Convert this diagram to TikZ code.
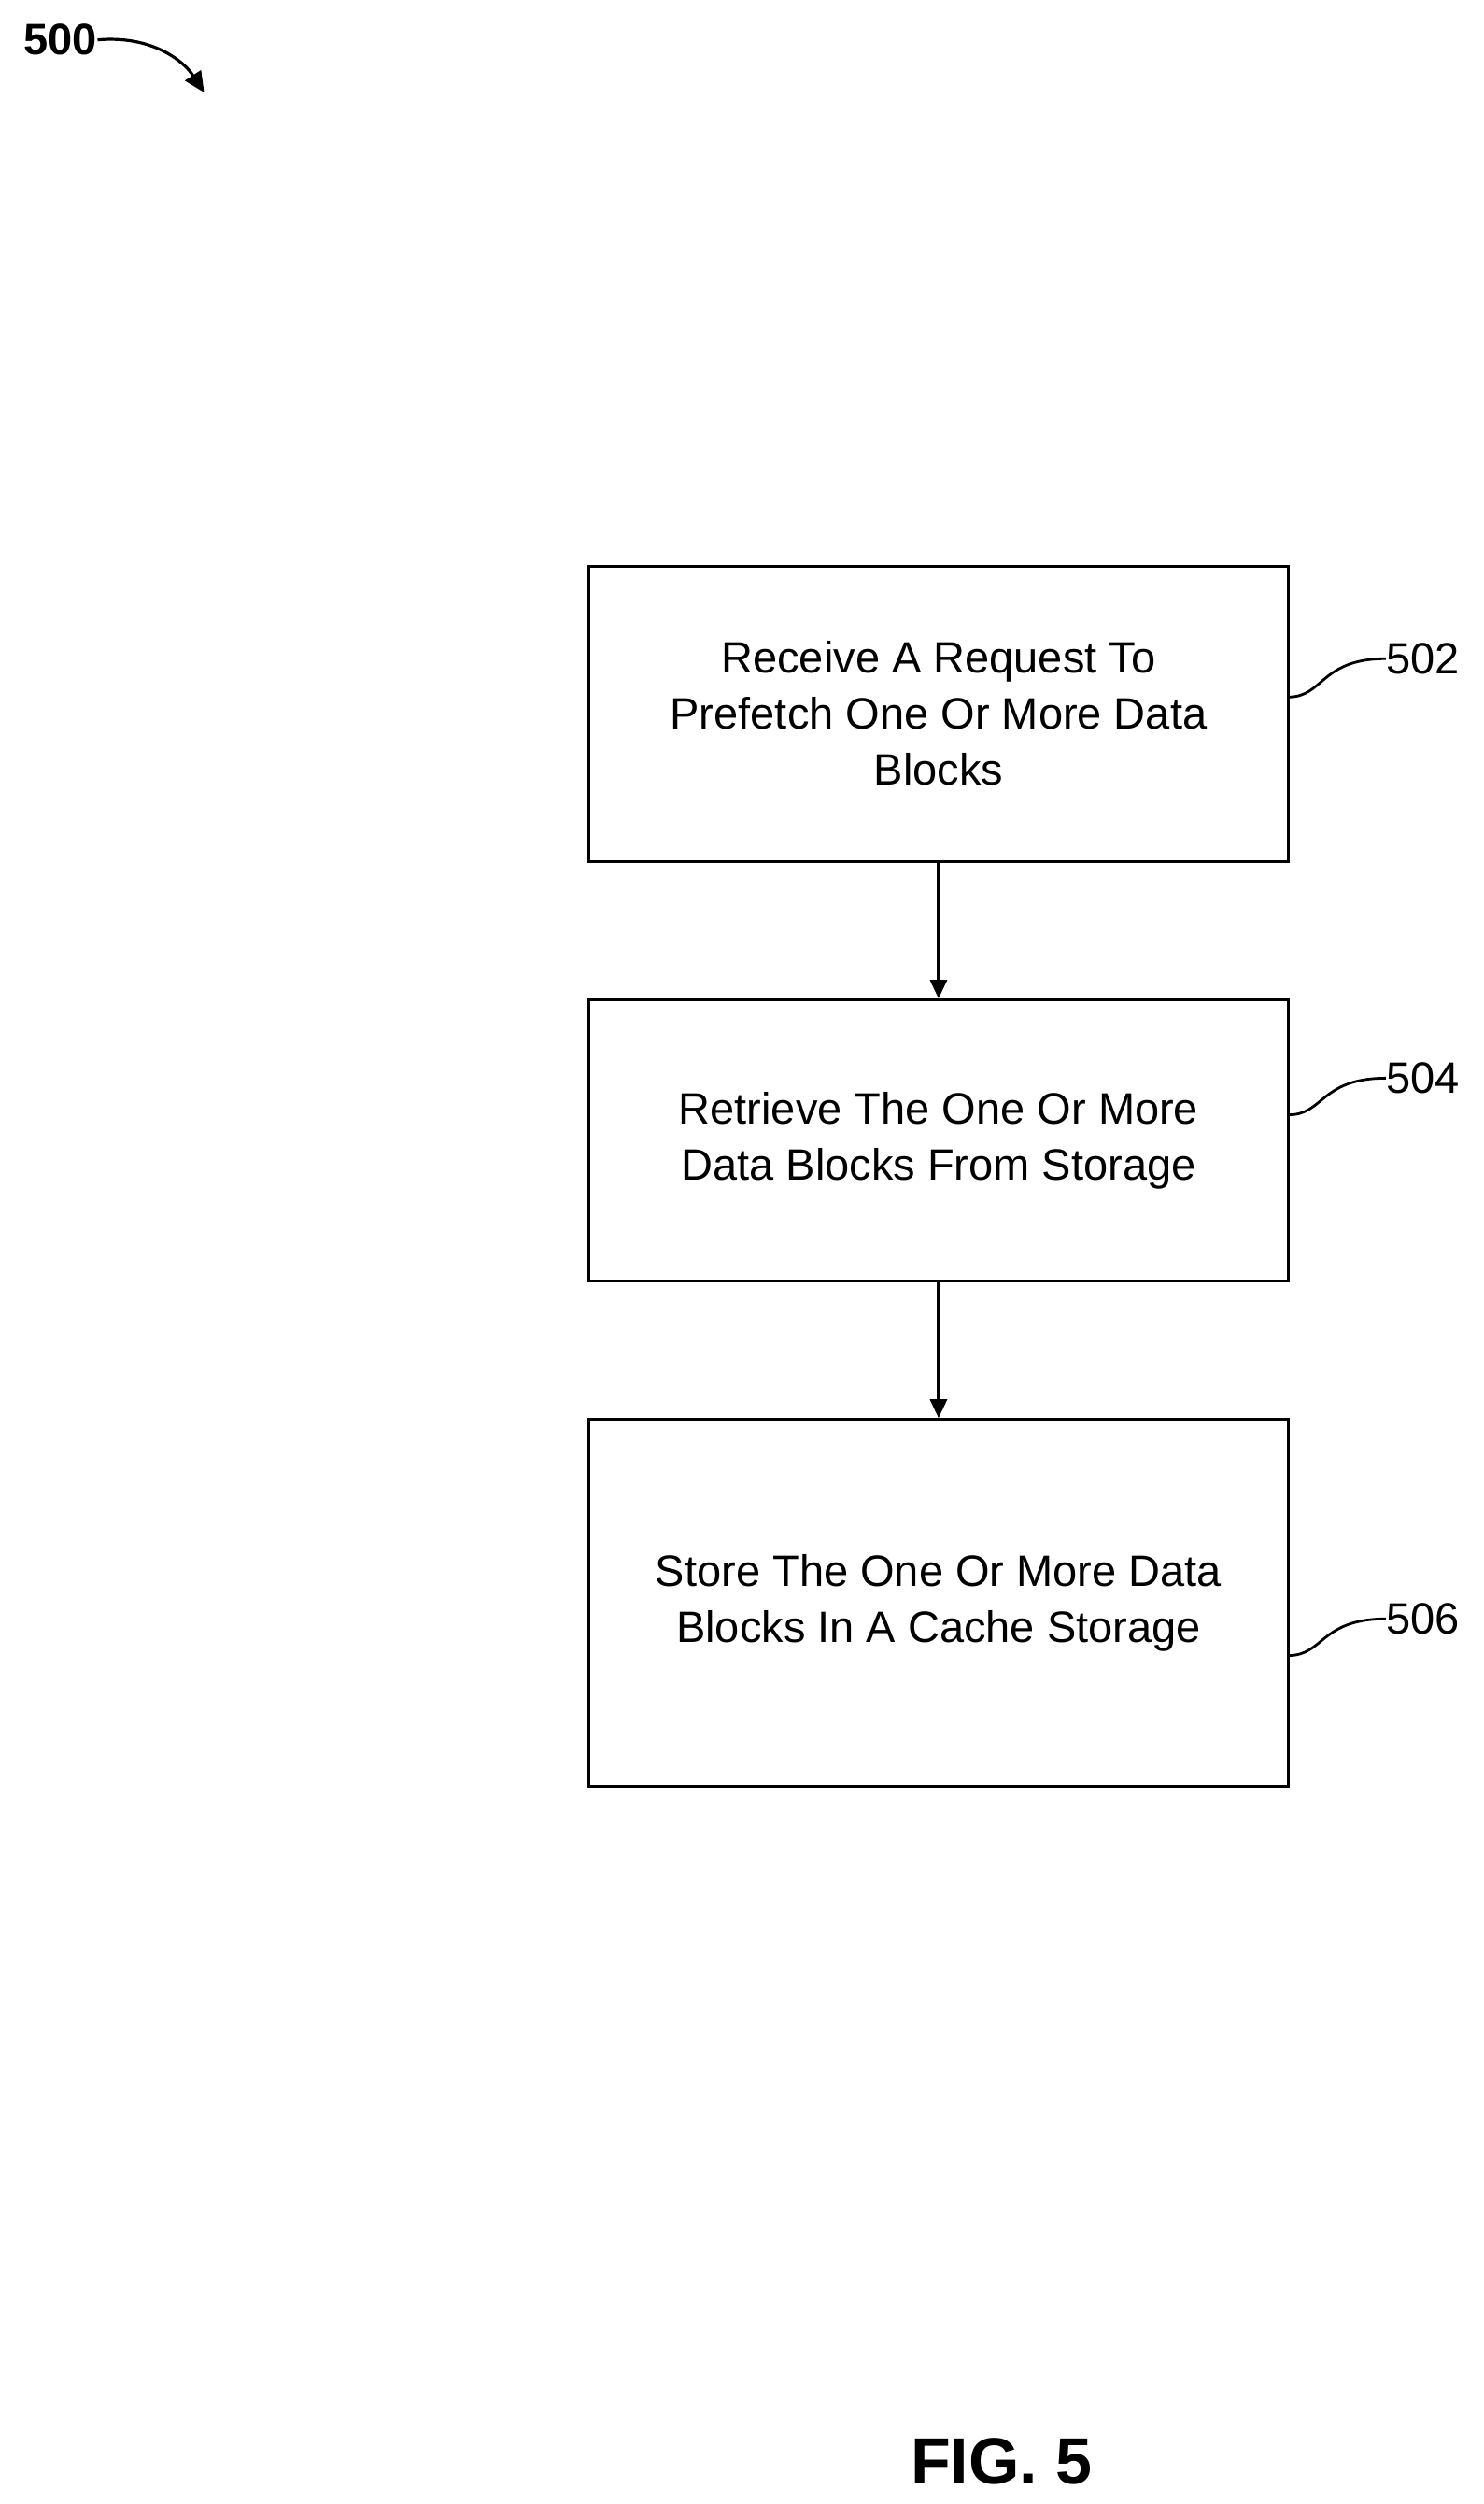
\documentclass[tikz,border=0pt]{standalone}
\usepackage{fontspec}
\setmainfont{Liberation Sans}
\usetikzlibrary{arrows.meta}
\begin{document}
\begin{tikzpicture}[x=0.85375pt,y=-0.85375pt,
  box/.style={draw,line width=1.6pt,align=center,font=\fontsize{23.5}{30}\selectfont,inner sep=0pt},
  lbl/.style={font=\fontsize{23.5}{28}\selectfont,anchor=west,inner sep=0pt},
  arr/.style={line width=1.6pt,-{Triangle[length=10pt,width=9pt]}},
  lead/.style={line width=1.4pt}]
\useasboundingbox (0,0) rectangle (930,1570);
\node[box,minimum width=439*0.85375pt,minimum height=185*0.85375pt] (b1) at (588.5,447.5) {Receive A Request To\\Prefetch One Or More Data\\Blocks};
\node[box,minimum width=439*0.85375pt,minimum height=176*0.85375pt] (b2) at (588.5,715) {Retrieve The One Or More\\Data Blocks From Storage};
\node[box,minimum width=439*0.85375pt,minimum height=230*0.85375pt] (b3) at (588.5,1005) {Store The One Or More Data\\Blocks In A Cache Storage};
\draw[arr] (b1.south) -- (b2.north);
\draw[arr] (b2.south) -- (b3.north);
\node[lbl] (l1) at (869,413) {502};
\node[lbl] (l2) at (869,676) {504};
\node[lbl] (l3) at (869,1015) {506};
\draw[lead] (808,437) .. controls (830,437) and (828,413) .. (l1.west);
\draw[lead] (808,699) .. controls (830,699) and (828,676) .. (l2.west);
\draw[lead] (808,1038) .. controls (830,1038) and (828,1015) .. (l3.west);
\node[font=\bfseries\fontsize{23.5}{28}\selectfont,inner sep=0pt] (n500) at (38,25) {500};
\draw[line width=1.6pt,-{Triangle[length=11pt,width=10pt]}] (n500.east) .. controls (95,22) and (115,38) .. (128,58);
\node[font=\bfseries\fontsize{35}{40}\selectfont,inner sep=0pt] (fig) at (628,1543) {FIG. 5};
\end{tikzpicture}
\end{document}
